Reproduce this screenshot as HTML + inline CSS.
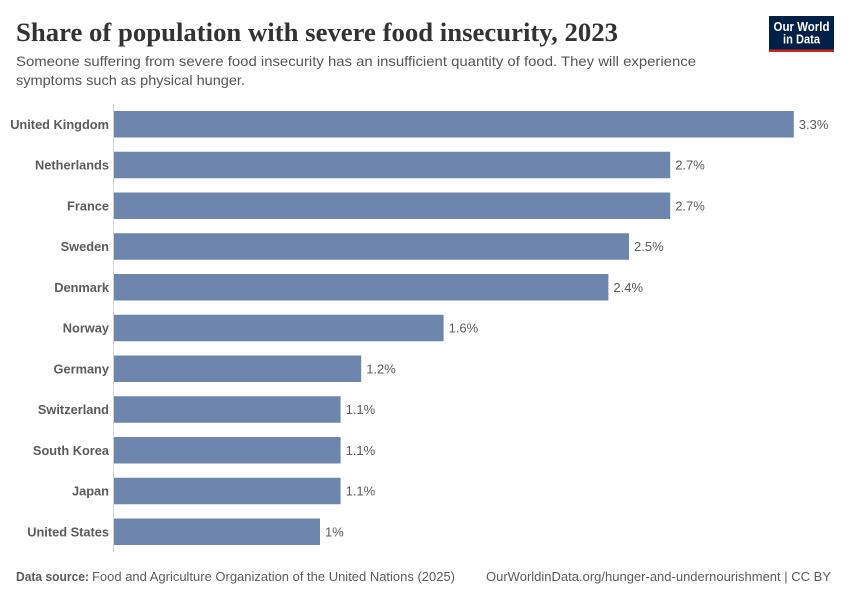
<!DOCTYPE html>
<html lang="en">
<head>
<meta charset="utf-8">
<title>Share of population with severe food insecurity, 2023</title>
<style>
html,body{margin:0;padding:0;background:#fff;width:850px;height:600px;overflow:hidden}
svg{display:block}
text{font-family:"Liberation Sans",sans-serif}
</style>
</head>
<body>
<svg id="chart" xmlns="http://www.w3.org/2000/svg" width="850" height="600" viewBox="0 0 850 600">
  <rect x="0" y="0" width="850" height="600" fill="#ffffff"/>
  <text x="16" y="41" font-size="26" font-weight="700" fill="#333333" textLength="602" lengthAdjust="spacingAndGlyphs" style="font-family:'Liberation Serif',serif">Share of population with severe food insecurity, 2023</text>
  <text x="16" y="66" font-size="14" fill="#555555" textLength="680" lengthAdjust="spacingAndGlyphs">Someone suffering from severe food insecurity has an insufficient quantity of food. They will experience</text>
  <text x="16" y="85" font-size="14" fill="#555555" textLength="229" lengthAdjust="spacingAndGlyphs">symptoms such as physical hunger.</text>
  <g>
    <rect x="769" y="16" width="65" height="36" fill="#002147"/>
    <rect x="769" y="49.5" width="65" height="2.5" fill="#ce261e"/>
    <text x="801.5" y="31" font-size="12.5" font-weight="700" fill="#ffffff" text-anchor="middle" textLength="56" lengthAdjust="spacingAndGlyphs">Our World</text>
    <text x="801.5" y="43.5" font-size="12.5" font-weight="700" fill="#ffffff" text-anchor="middle" textLength="37" lengthAdjust="spacingAndGlyphs">in Data</text>
  </g>
  <g id="bars"></g>
  <line x1="113.5" y1="104" x2="113.5" y2="552" stroke="#d4d4d4" stroke-width="1"/>
  <text x="16" y="581" font-size="13" font-weight="700" fill="#5b5b5b" textLength="73" lengthAdjust="spacingAndGlyphs">Data source:</text>
  <text x="92" y="581" font-size="13" fill="#5b5b5b" textLength="363" lengthAdjust="spacingAndGlyphs">Food and Agriculture Organization of the United Nations (2025)</text>
  <text x="486" y="581" font-size="13" fill="#5b5b5b" textLength="345" lengthAdjust="spacingAndGlyphs">OurWorldinData.org/hunger-and-undernourishment | CC BY</text>
</svg>
<script>
const countries = ["United Kingdom","Netherlands","France","Sweden","Denmark","Norway","Germany","Switzerland","South Korea","Japan","United States"];
const shares = [3.3,2.7,2.7,2.5,2.4,1.6,1.2,1.1,1.1,1.1,1.0];
const valueLabels = ["3.3%","2.7%","2.7%","2.5%","2.4%","1.6%","1.2%","1.1%","1.1%","1.1%","1%"];

const NS = "http://www.w3.org/2000/svg";
const X0 = 114, PX_PER_UNIT = 206, Y0 = 111, STEP = 40.75, BAR_H = 26.5;
const xScale = v => X0 + v * PX_PER_UNIT;
const yScale = i => Y0 + i * STEP;
const group = document.getElementById("bars");

countries.forEach((name, i) => {
  const y = yScale(i), xEnd = xScale(shares[i]);

  const bar = document.createElementNS(NS, "rect");
  
  
  bar.setAttribute("x", X0);
  bar.setAttribute("y", y);
  bar.setAttribute("width", xEnd - X0);
  bar.setAttribute("height", BAR_H);
  bar.setAttribute("fill", "#6e86ae");
  group.appendChild(bar);

  const label = document.createElementNS(NS, "text");
  
  
  label.setAttribute("x", 109);
  label.setAttribute("y", y + BAR_H / 2 + 4.5);
  label.setAttribute("text-anchor", "end");
  label.setAttribute("font-size", "12.8");
  label.setAttribute("font-weight", "700");
  label.setAttribute("fill", "#5b5b5b");
  label.textContent = name;
  group.appendChild(label);

  const value = document.createElementNS(NS, "text");
  
  
  value.setAttribute("x", xEnd + 5);
  value.setAttribute("y", y + BAR_H / 2 + 4.5);
  value.setAttribute("font-size", "13");
  value.setAttribute("fill", "#5b5b5b");
  value.textContent = valueLabels[i];
  group.appendChild(value);
});
</script>
</body>
</html>
